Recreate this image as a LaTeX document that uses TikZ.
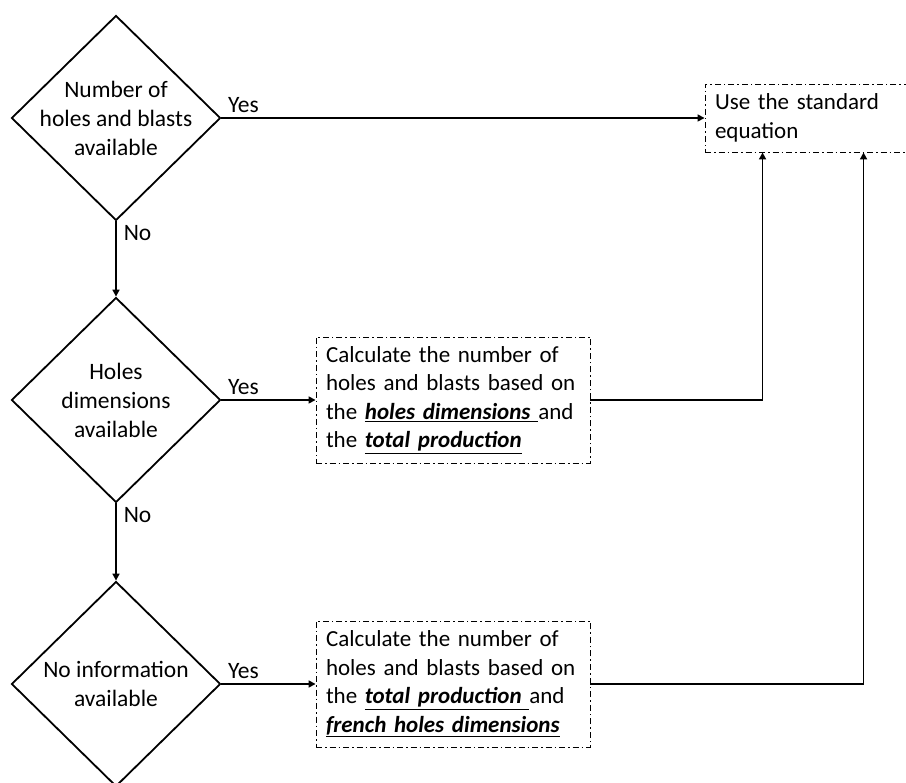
\documentclass[tikz,border=0pt]{standalone}
\usepackage{fontspec}
\setmainfont{Carlito}
\usetikzlibrary{shapes.geometric,arrows.meta}
\tikzset{
  decision/.style={diamond, draw, line width=1.8pt, minimum width=209pt, minimum height=205pt, inner sep=0pt},
  decisiontext/.style={align=center, font=\fontsize{23.5}{29}\selectfont},
  actionbox/.style={draw, line width=0.9pt, dash pattern=on 6pt off 3pt on 1.5pt off 3pt, align=left,
    inner xsep=10pt, inner ysep=0pt, font=\fontsize{23}{28.5}\selectfont},
  flow/.style={line width=1.6pt, -{Triangle[length=7pt,width=7pt]}},
  answer/.style={font=\fontsize{23.5}{29}\selectfont, inner sep=1pt}
}
\newcommand{\keyword}[1]{\underline{\textbf{\textit{#1}}}}
\begin{document}
\begin{tikzpicture}[x=1pt, y=-1pt]
      \useasboundingbox (0,0) rectangle (906,783);
      \node[decision, label={[decisiontext]center:Number of\\holes and blasts\\available}] (holesblasts) at (116,118) {};
      \node[decision, label={[decisiontext]center:Holes\\dimensions\\available}] (holesdims) at (116,400) {};
      \node[decision, label={[decisiontext]center:No information\\available}] (noinfo) at (116,684) {};

      \node[actionbox, text width=190pt, minimum height=68pt] (standard) at (810,118) {Use the standard\\equation};
      \node[actionbox, text width=254pt, minimum height=126pt] (calcdims) at (453,400) {Calculate the number of\\holes and blasts based on\\the \keyword{holes dimensions\ }and\\the \keyword{total production}};
      \node[actionbox, text width=254pt, minimum height=126pt] (calcprod) at (453,684) {Calculate the number of\\holes and blasts based on\\the \keyword{total production\ }and\\\keyword{french holes dimensions}};

      \draw[flow] (holesblasts.east) -- node[answer, pos=0, anchor=south west, xshift=5pt, yshift=4pt] (yes1) {Yes} (standard.west);
      \draw[flow] (holesdims.east) -- node[answer, pos=0, anchor=south west, xshift=5pt, yshift=4pt] (yes2) {Yes} (calcdims.west);
      \draw[flow] (noinfo.east) -- node[answer, pos=0, anchor=south west, xshift=5pt, yshift=4pt] (yes3) {Yes} (calcprod.west);
      \draw[flow] (holesblasts.south) -- node[answer, pos=0, anchor=north west, xshift=6pt, yshift=-2pt] (no1) {No} (holesdims.north);
      \draw[flow] (holesdims.south) -- node[answer, pos=0, anchor=north west, xshift=6pt, yshift=-2pt] (no2) {No} (noinfo.north);
      \draw[flow] (calcdims.east) -| ([xshift=58pt]standard.south west);
      \draw[flow] (calcprod.east) -| ([xshift=159pt]standard.south west);
\end{tikzpicture}
\end{document}
